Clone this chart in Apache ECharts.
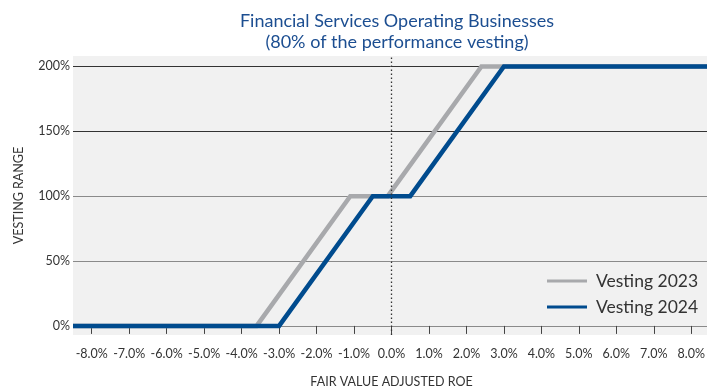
<!DOCTYPE html>
<html>
<head>
<meta charset="utf-8">
<script src="https://cdn.jsdelivr.net/npm/echarts@6/dist/echarts.min.js"></script>
<style>html,body{margin:0;padding:0;background:#fff}#c{width:707px;height:387px}</style>
</head>
<body>
<div id="c"></div>
<script>
var xTicks = [-8, -7, -6, -5, -4, -3, -2, -1, 0, 1, 2, 3, 4, 5, 6, 7, 8];
var yTicks = [0, 50, 100, 150, 200];
var vesting2023 = [[-8.5, 0], [-3.6, 0], [-1.1, 100], [-0.1, 100], [2.4, 200], [8.5, 200]];
var vesting2024 = [[-8.5, 0], [-3.0, 0], [-0.5, 100], [0.5, 100], [3.0, 200], [8.5, 200]];

var chart = echarts.init(document.getElementById('c'));
var font = 'Lato, "Open Sans", sans-serif';
chart.setOption({
  animation: false,
  textStyle: { fontFamily: font },
  title: {
    text: 'Financial Services Operating Businesses\n(80% of the performance vesting)',
    left: 392, top: 6, textAlign: 'center',
    textStyle: { color: '#1C4E91', fontSize: 18, fontWeight: 'normal', lineHeight: 21, fontFamily: font }
  },
  legend: {
    orient: 'vertical', left: 547, top: 272, padding: 0, itemWidth: 40, itemHeight: 3, itemGap: 8,
    icon: 'rect',
    textStyle: { fontSize: 17.5, color: '#333', fontFamily: font, padding: [0, 0, 0, 4] },
    data: ['Vesting 2023', 'Vesting 2024']
  },
  grid: { left: 73, right: -3, top: 56, bottom: 52, show: true, backgroundColor: '#F1F1F1', borderWidth: 0, outerBoundsMode: 'none', containLabel: false },
  xAxis: {
    type: 'value', min: -8.5, max: 8.5,
    name: 'FAIR VALUE ADJUSTED ROE', nameLocation: 'middle', nameGap: 40,
    nameTextStyle: { fontSize: 12.5, color: '#333', fontFamily: font },
    axisLine: { show: false },
    axisTick: { show: true, length: 8, lineStyle: { color: '#444' }, customValues: xTicks },
    axisLabel: { customValues: xTicks, fontSize: 12.5, color: '#333', margin: 12, fontFamily: font,
      formatter: function (v) { return v.toFixed(1) + '%'; } },
    splitLine: { show: false }
  },
  yAxis: {
    type: 'value', min: -7, max: 208,
    name: 'VESTING RANGE', nameLocation: 'middle', nameGap: 48, nameRotate: 90,
    nameTextStyle: { fontSize: 12.5, color: '#333', fontFamily: font },
    axisLine: { show: false },
    axisTick: { show: false, customValues: yTicks },
    axisLabel: { customValues: yTicks, fontSize: 12.5, color: '#333', margin: 3, fontFamily: font,
      formatter: function (v) { return v + '%'; } },
    splitLine: { show: true, lineStyle: { color: ['#8a8a8a', '#8a8a8a', '#8a8a8a', '#333', '#333'], width: 1 } }
  },
  series: [
    {
      name: 'Vesting 2023', type: 'line', data: vesting2023, symbol: 'none',
      lineStyle: { color: '#A8A9AC', width: 4.5, join: 'miter' }, itemStyle: { color: '#A8A9AC' },
      z: 2,
      markLine: {
        silent: true, symbol: 'none', label: { show: false },
        lineStyle: { color: '#333', type: [1.5, 2.5], width: 1.3 },
        data: [{ xAxis: 0 }]
      }
    },
    {
      name: 'Vesting 2024', type: 'line', data: vesting2024, symbol: 'none',
      lineStyle: { color: '#004B8E', width: 4.5, join: 'miter' }, itemStyle: { color: '#004B8E' },
      z: 3
    }
  ]
});
</script>
</body>
</html>
